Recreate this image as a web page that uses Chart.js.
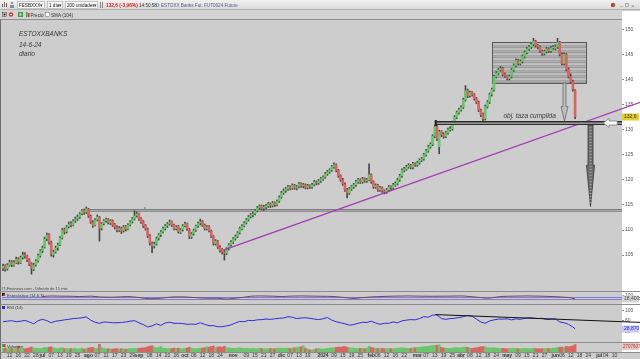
<!DOCTYPE html>
<html><head><meta charset="utf-8">
<script src="https://cdn.jsdelivr.net/npm/chart.js@4.4.1/dist/chart.umd.min.js"></script>
<style>
html,body{margin:0;padding:0;}
body{width:640px;height:359px;overflow:hidden;position:relative;background:#cdcdcd;}
#axbg{position:absolute;left:622px;top:11px;width:18px;height:341px;background:#ffffff;}
canvas{position:absolute;left:0;}
#cP{top:20px;} #cS{top:291px;} #cR{top:304px;} #cV{top:342px;}
#ov{top:0;pointer-events:none;}
</style></head><body>
<div id="axbg"></div>
<canvas id="cP" width="640" height="271"></canvas>
<canvas id="cS" width="640" height="13"></canvas>
<canvas id="cR" width="640" height="38"></canvas>
<canvas id="cV" width="640" height="17"></canvas>
<canvas id="ov" width="640" height="359"></canvas>
<script>
// ---------------- DATA ----------------
const MONTHS=['ene','feb','mar','abr','may','jun','jul','ago','sep','oct','nov','dic'];
const HOLIDAYS=['2023-12-25','2023-12-26','2024-01-01','2024-03-29','2024-04-01','2024-05-01'];
const FIRST_DAY='2023-06-07', LAST_AXIS_DAY='2024-07-12';
const tickDates=['2023-06-12','2023-06-16','2023-06-22','2023-06-28',
'2023-07-03','2023-07-07','2023-07-13','2023-07-19','2023-07-25',
'2023-08-01','2023-08-07','2023-08-11','2023-08-17','2023-08-23','2023-08-29',
'2023-09-01','2023-09-08','2023-09-14','2023-09-20','2023-09-26',
'2023-10-02','2023-10-06','2023-10-12','2023-10-18','2023-10-24',
'2023-11-01','2023-11-09','2023-11-15','2023-11-21','2023-11-27',
'2023-12-01','2023-12-07','2023-12-13','2023-12-19',
'2024-01-02','2024-01-09','2024-01-15','2024-01-19','2024-01-25',
'2024-02-01','2024-02-06','2024-02-12','2024-02-16','2024-02-22',
'2024-03-01','2024-03-07','2024-03-13','2024-03-19','2024-03-25',
'2024-04-02','2024-04-08','2024-04-12','2024-04-18','2024-04-24',
'2024-05-02','2024-05-09','2024-05-15','2024-05-21','2024-05-27',
'2024-06-03','2024-06-06','2024-06-12','2024-06-18','2024-06-24',
'2024-07-01','2024-07-04','2024-07-10'];

const open=[102.4,102.9,102.3,103.0,103.7,103.0,103.5,104.3,103.5,104.6,
105.1,104.9,104.1,103.3,102.2,103.1,103.9,104.9,105.9,106.6,
108.3,109.1,107.5,105.1,105.7,106.5,107.1,108.5,110.1,109.7,
110.7,111.3,111.0,111.9,112.3,112.6,113.3,113.9,113.6,114.1,
112.7,111.5,111.0,112.1,112.5,110.4,111.3,111.9,112.1,111.4,
111.8,111.1,110.5,110.0,110.4,109.9,110.7,110.2,111.1,111.7,
112.2,112.9,113.3,112.3,111.7,110.9,110.2,108.9,107.3,106.8,
107.3,108.4,109.1,109.7,110.3,110.9,111.3,111.7,111.0,110.3,
110.7,109.6,110.1,110.9,111.3,110.1,108.6,109.3,110.0,110.9,
111.4,111.7,111.0,110.3,110.7,109.8,108.7,107.3,107.7,106.6,
106.1,105.5,105.4,106.3,107.1,107.6,108.3,108.8,109.5,110.3,
110.9,111.5,112.1,112.7,113.0,113.3,113.9,114.5,114.8,114.3,
114.6,114.8,115.2,114.9,115.4,115.1,115.8,116.6,117.4,117.9,
118.2,118.6,118.4,118.9,118.4,118.7,119.2,118.8,119.0,118.5,
118.8,118.6,119.1,119.6,119.4,119.8,120.2,120.6,121.2,121.6,
122.0,122.6,123.0,121.9,120.8,120.0,119.1,118.0,117.4,118.2,
118.6,119.0,119.6,120.0,119.6,120.2,119.8,120.0,121.0,119.6,
118.6,118.9,118.0,118.4,117.8,117.6,118.0,118.6,118.4,119.0,
119.3,120.0,120.8,121.9,122.2,122.6,122.9,122.5,123.2,123.0,
123.4,123.9,124.2,125.0,125.8,126.6,127.1,128.7,130.6,126.6,
129.6,129.0,128.7,129.4,130.0,130.2,131.4,132.5,133.4,134.0,
134.5,136.0,137.8,136.8,137.4,137.0,136.2,135.5,133.9,133.0,
132.2,134.6,135.5,137.0,138.0,140.6,141.3,141.9,142.2,141.0,
140.7,140.2,140.6,141.9,142.8,143.8,143.2,143.6,144.6,145.4,
146.1,146.5,147.0,147.6,146.8,146.5,145.7,145.2,145.6,146.1,
145.7,146.3,146.2,146.5,147.4,145.0,143.2,145.0,142.0,140.6,
139.6,137.8];
const high=[103.2,103.1,103.3,104.0,103.9,103.9,104.6,104.5,104.8,105.6,
105.5,105.0,104.3,103.5,103.4,104.1,105.2,106.1,106.8,108.6,
109.4,109.3,107.8,106.0,106.8,107.4,108.7,110.3,110.4,110.9,
111.6,111.7,112.1,112.6,113.0,113.5,114.1,114.2,114.6,114.3,
113.0,111.9,112.3,113.0,112.7,111.5,112.1,112.4,112.3,112.1,
112.0,111.3,110.9,110.7,110.6,110.9,110.9,111.3,111.9,112.5,
113.8,113.6,113.4,112.5,111.9,111.1,110.4,109.1,107.6,107.6,
108.6,109.3,109.9,110.6,111.1,111.5,112.0,111.8,111.2,110.9,
110.9,110.3,111.1,111.6,111.4,110.3,109.5,110.2,111.0,111.6,
112.2,111.9,111.2,110.9,110.9,110.0,108.9,108.1,107.9,106.9,
106.3,106.0,106.5,107.3,107.9,108.5,109.0,109.7,110.6,111.1,
111.7,112.3,112.9,113.3,113.6,114.1,114.7,115.0,115.0,114.9,
115.1,115.5,115.4,115.7,115.6,116.0,116.8,117.7,118.2,118.5,
118.9,118.8,119.2,119.1,118.9,119.5,119.4,119.3,119.2,119.1,
119.0,119.3,119.9,119.8,120.1,120.5,120.8,121.5,121.9,122.2,
122.9,123.4,123.2,122.1,121.0,120.3,119.4,118.3,118.5,118.9,
119.3,119.9,120.3,120.2,120.5,120.4,120.3,123.2,121.2,119.8,
119.2,119.1,118.7,118.6,118.0,118.3,118.9,118.8,119.3,119.6,
120.3,121.1,122.2,122.5,122.9,123.2,123.1,123.5,123.4,123.7,
124.2,124.5,125.3,126.1,126.9,127.4,129.0,130.9,130.8,129.9,
129.8,129.4,129.7,130.3,130.6,131.7,132.8,133.7,134.3,134.8,
136.3,138.8,138.1,137.7,137.6,137.2,136.4,135.7,134.1,133.3,
134.9,135.8,137.3,138.3,140.9,141.6,142.2,142.6,142.4,141.3,
140.9,140.9,142.2,143.1,144.1,144.0,143.9,144.9,145.7,146.4,
146.8,147.3,148.2,147.8,147.0,146.7,145.9,145.9,146.4,146.3,
146.6,146.8,146.9,148.2,147.6,145.3,145.3,145.2,142.3,141.1,
139.9,138.0];
const low=[101.9,101.8,102.0,102.8,102.7,102.8,103.3,103.2,103.3,104.2,
104.4,103.7,102.9,101.2,101.9,102.8,103.6,104.6,105.5,106.4,
107.9,107.2,104.8,104.6,105.4,106.0,106.9,108.2,109.2,109.4,
110.4,110.6,110.8,111.5,111.9,112.3,113.0,113.1,113.3,112.5,
111.3,110.5,110.8,111.8,107.8,110.0,111.0,111.5,111.2,111.1,
110.7,110.2,109.6,109.7,109.3,109.6,109.8,110.0,110.8,111.4,
112.0,112.6,111.9,111.3,110.5,110.0,108.5,107.0,105.5,106.4,
107.0,108.0,108.7,109.4,110.0,110.5,111.0,110.7,110.0,110.0,
109.4,109.3,109.8,110.6,109.9,108.3,108.3,109.0,109.7,110.5,
111.0,110.7,110.0,110.0,109.6,108.5,107.0,107.0,106.3,105.6,
105.2,104.0,105.1,106.0,106.8,107.3,108.0,108.5,109.2,110.0,
110.6,111.2,111.8,112.4,112.6,113.0,113.6,114.1,114.0,113.9,
114.2,114.5,114.5,114.6,114.7,114.8,115.5,116.3,117.1,117.5,
117.9,118.0,118.1,118.1,118.0,118.4,118.5,118.4,118.2,118.2,
118.3,118.3,118.8,119.0,119.1,119.5,119.9,120.3,120.9,121.3,
121.7,122.3,121.6,120.5,119.7,118.9,117.7,116.4,117.1,117.9,
118.3,118.7,119.3,119.3,119.3,119.5,119.5,119.8,119.3,118.3,
118.3,117.7,117.7,117.5,117.2,117.3,117.7,118.0,118.1,118.7,
119.0,119.7,120.5,121.6,121.9,122.3,122.2,122.2,122.7,122.7,
123.1,123.6,123.9,124.7,125.5,126.3,126.8,128.4,127.8,125.2,
128.6,128.3,128.4,129.1,129.7,129.9,131.1,132.2,133.1,133.7,
134.2,135.7,136.4,136.5,136.7,135.9,135.2,133.6,132.6,131.3,
131.9,134.3,135.2,136.7,137.7,140.3,141.0,141.6,140.7,140.4,
139.9,139.9,140.3,141.6,142.5,142.9,142.9,143.3,144.3,145.1,
145.8,146.2,146.7,146.5,146.1,145.4,144.8,144.9,145.3,145.4,
145.4,146.0,145.9,146.2,144.7,142.9,142.9,141.7,140.3,139.3,
137.7,132.2];
const close=[102.8,102.2,103.0,103.6,103.1,103.5,104.2,103.6,104.5,105.0,
104.8,104.0,103.2,102.4,103.0,103.8,104.9,105.8,106.4,108.2,
109.0,107.6,105.2,105.6,106.4,107.0,108.4,110.0,109.6,110.6,
111.2,111.0,111.8,112.2,112.6,113.2,113.8,113.5,114.2,112.8,
111.6,110.9,112.0,112.6,110.3,111.2,111.8,112.0,111.5,111.8,
111.0,110.6,110.0,110.3,109.8,110.6,110.2,111.0,111.6,112.2,
112.8,113.2,112.2,111.6,110.8,110.3,108.8,107.4,106.8,107.2,
108.3,109.0,109.6,110.3,110.8,111.2,111.6,111.0,110.3,110.6,
109.7,110.0,110.8,111.2,110.2,108.7,109.2,109.9,110.8,111.3,
111.6,111.0,110.3,110.6,109.9,108.8,107.4,107.8,106.6,106.0,
105.6,105.4,106.2,107.0,107.6,108.2,108.7,109.4,110.3,110.8,
111.4,112.0,112.6,113.0,113.2,113.8,114.4,114.7,114.3,114.6,
114.7,115.2,114.9,115.4,115.0,115.7,116.5,117.4,117.8,118.2,
118.6,118.3,118.9,118.4,118.6,119.2,118.8,119.0,118.5,118.8,
118.6,119.0,119.6,119.4,119.8,120.2,120.5,121.2,121.6,121.9,
122.6,123.0,121.9,120.8,120.0,119.2,118.0,117.4,118.2,118.6,
119.0,119.6,120.0,119.6,120.2,119.8,120.0,121.0,119.6,118.6,
118.9,118.0,118.4,117.8,117.6,118.0,118.6,118.4,119.0,119.3,
120.0,120.8,121.9,122.2,122.6,122.9,122.5,123.2,123.0,123.4,
123.9,124.2,125.0,125.8,126.6,127.1,128.7,130.6,128.2,129.6,
129.0,128.7,129.4,130.0,130.2,131.4,132.5,133.4,134.0,134.5,
136.0,137.8,136.8,137.4,137.0,136.2,135.5,133.9,133.0,132.2,
134.6,135.5,137.0,138.0,140.6,141.3,141.9,142.2,141.0,140.7,
140.2,140.6,141.9,142.8,143.8,143.2,143.6,144.6,145.4,146.1,
146.5,147.0,147.6,146.8,146.5,145.7,145.2,145.6,146.1,145.7,
146.3,146.5,146.5,147.4,145.0,143.2,145.0,142.0,140.6,139.6,
138.1,132.6];
const volume=[38,42,35,40,36,33,45,62,40,37,
34,39,44,52,41,36,38,35,40,48,
45,50,55,42,38,36,41,44,35,37,
33,36,34,38,32,35,39,31,36,42,
46,48,40,38,80,45,36,33,35,30,
32,34,36,31,35,33,30,34,37,35,
38,36,40,42,44,46,55,62,66,50,
45,48,58,40,38,35,37,36,41,38,
40,36,34,38,42,50,39,37,35,38,
40,42,45,55,50,58,62,48,52,55,
50,60,46,42,40,38,36,41,44,39,
37,40,36,34,38,35,33,40,36,34,
35,33,37,36,34,38,42,40,36,39,
41,37,40,44,48,52,55,66,38,30,
22,18,28,34,36,32,30,34,38,40,
42,44,48,52,50,55,58,50,45,42,
40,38,36,39,37,35,40,60,48,42,
40,38,36,39,35,34,37,36,33,38,
40,42,44,41,38,36,40,43,45,48,
50,52,55,58,60,64,68,70,72,75,
48,42,40,38,36,40,44,46,42,45,
50,52,48,40,38,42,45,50,55,58,
52,46,44,42,45,40,38,36,38,35,
33,36,38,40,37,35,34,36,38,37,
35,38,40,36,34,33,36,35,38,37,
36,40,42,45,48,52,46,60,55,58,
65,78];
// RSI(14) read every second session, plus the last session
const rsiEven=[56,58,60,56,58,61,55,48,60,65,
60,52,58,60,63,65,68,69,71,74,
62,54,50,55,54,52,52,53,55,58,
60,52,45,36,40,48,42,51,54,50,
50,49,46,47,46,52,46,41,41,37,
37,40,44,51,57,56,61,60,63,64,
66,65,67,69,70,75,73,68,70,71,
69,66,64,67,72,62,56,52,48,43,
45,50,54,53,58,51,46,50,50,55,
52,59,62,64,63,68,75,73,81,82,
68,65,68,69,72,75,80,77,66,55,
50,59,63,66,66,67,63,67,65,69,
71,70,68,69,64,66,67,55,52,46,
36];
const rsiLast=28.8;
// Stochastic (14,6,3) read at these sessions
const stochIdx=[18,22,26,31,35,40,44,50,57,63,67,72,76,81,85,89,93,98,102,105,110,113,117,123,127,131,136,142,145,151,157,160,163,168,172,178,185,190,196,203,209,213,218,221,224,227,233,239,245,251,256,259,261];
const stochVal=[80,95,90,87,80,90,70,63,80,47,23,37,63,73,63,47,37,37,13,30,63,87,96,90,80,90,96,90,87,80,47,30,47,70,80,90,96,90,87,90,96,80,53,37,57,80,90,96,90,80,63,47,18.4];
const priceTicks=[105,110,115,120,125,130,135,140,145,150];
const rsiTicks=[20,40,60,80,100];
const stochTicks=[100];
const lastPriceLabel='132,6', stochLabel='18,400', rsiLabel='28,870', volLabel='2707607';
// drawn studies (bar index / price units)
const trendPurple=[{x:100.5,y:106.0},{x:290.9,y:135.5}];
const trendRsi=[{x:197.3,y:83},{x:290.9,y:53.4}];
const resistanceLevel=114.0, resistanceFrom=39;
const supportLevel=131.3, supportFrom=197;
const cupBox={x0:223.3,x1:266.2,yTop:147.5,yBot:139.3};
const smallArrow={x:255.8,neck:134.6,tip:131.7};
const bigArrow={x:267.8,neck:122.9,tip:114.7};
const leftArrow={tip:273.8,tail:280.2};
const objText={x:228.3,y:132.4,text:'obj. taza cumplida'};

// ---------------- SETUP ----------------
const FONT='"Liberation Sans", Arial, sans-serif';
const UP='#6cc46c', DOWN='#d86464', WICK='#474747';
const XMIN=-0.46, XMAX=282.4;
const days=[];
for(let d=new Date(FIRST_DAY+'T00:00:00Z'); d<=new Date(LAST_AXIS_DAY+'T00:00:00Z'); d.setUTCDate(d.getUTCDate()+1)){
  const w=d.getUTCDay(), s=d.toISOString().slice(0,10);
  if(w>0&&w<6&&!HOLIDAYS.includes(s)) days.push(s);
}
const tickIdx=tickDates.map(s=>days.indexOf(s)).filter(i=>i>=0);
function isMonthStart(i){const d=days[i],p=days[i-1];return !p||p.slice(5,7)!==d.slice(5,7);}
function tickLabel(i){const d=days[i]; if(!d) return ''; if(isMonthStart(i)){const m=+d.slice(5,7); return m===1?d.slice(0,4):MONTHS[m-1];} return d.slice(8,10);}

function yAxis(min,max,ticks){
  return {position:'right',min,max,
    afterBuildTicks:s=>{s.ticks=ticks.map(v=>({value:v}));},
    afterFit:s=>{s.width=18;},
    ticks:{font:{family:FONT,size:5},color:'#505050',padding:1,callback:v=>String(v)},
    grid:{drawOnChartArea:false,drawTicks:true,tickLength:2,color:'#8a8a8a'},
    border:{display:false}};
}
function xAxis(show){
  const a={type:'linear',min:XMIN,max:XMAX,offset:false,display:show,grid:{display:false,drawTicks:false,tickLength:0},border:{display:false}};
  if(show){
    a.afterBuildTicks=s=>{s.ticks=tickIdx.map(v=>({value:v}));};
    a.afterFit=s=>{s.height=7;};
    a.ticks={autoSkip:false,maxRotation:0,minRotation:0,padding:1,color:'#333',
      font:c=>({family:FONT,size:5,weight:(c.tick&&isMonthStart(c.tick.value))?'bold':'normal'}),
      callback:v=>tickLabel(v)};
  }
  return a;
}
function opts(y,showX){
  return {responsive:false,animation:false,events:[],
    layout:{padding:{left:2,right:0,top:0,bottom:0}},
    plugins:{legend:{display:false},tooltip:{enabled:false}},
    scales:{x:xAxis(showX),y:y}};
}
function valueBox(ctx,chart,val,text,bg,fg){
  const y=chart.scales.y.getPixelForValue(val);
  ctx.save();ctx.fillStyle=bg;ctx.fillRect(622,Math.round(y)-3.5,17,7);
  ctx.fillStyle=fg;ctx.font='5px '+FONT;ctx.textBaseline='middle';ctx.fillText(text,624,Math.round(y));ctx.restore();
}

// ---------------- PRICE ----------------
const PMAX=151.064, PMIN=98.646;
const pricePlugin={id:'pp',
  beforeDatasetsDraw(chart){
    const {ctx,scales:{x,y},chartArea:ca}=chart; ctx.save();
    const bx0=x.getPixelForValue(cupBox.x0),bx1=x.getPixelForValue(cupBox.x1);
    const by0=Math.round(y.getPixelForValue(cupBox.yTop)),by1=Math.round(y.getPixelForValue(cupBox.yBot));
    const shades=['rgba(150,150,150,0.75)','rgba(178,178,178,0.7)','rgba(160,160,160,0.75)','rgba(188,188,188,0.7)','rgba(140,140,140,0.75)'];
    for(let r=by0;r<by1;r++){ctx.fillStyle=shades[(r*7)%5];ctx.fillRect(bx0,r,bx1-bx0,1);}
    ctx.strokeStyle='#5a5a5a';ctx.lineWidth=1;ctx.strokeRect(Math.round(bx0)+0.5,by0+0.5,Math.round(bx1-bx0),by1-by0);
    const ry=Math.round(y.getPixelForValue(resistanceLevel));
    const rx=x.getPixelForValue(resistanceFrom);
    ctx.fillStyle='#a9a9a9';ctx.fillRect(rx,ry-1,ca.right-rx,3);
    ctx.fillStyle='#7c7c7c';ctx.fillRect(rx,ry-1,ca.right-rx,1);
    ctx.fillStyle='#8e8e8e';ctx.fillRect(rx,ry+1,ca.right-rx,1);
    ctx.fillStyle='#777';ctx.fillRect(x.getPixelForValue(64.5),ry-3,1,3);
    ctx.restore();
  },
  afterDatasetsDraw(chart){
    const {ctx,scales:{x,y},chartArea:ca}=chart; ctx.save();
    const sy=Math.round(y.getPixelForValue(supportLevel));
    const sx=x.getPixelForValue(supportFrom);
    ctx.fillStyle='#6a6a6a';ctx.fillRect(sx,sy-2,ca.right-sx,4);
    ctx.fillStyle='#2e2e2e';ctx.fillRect(sx,sy-2,ca.right-sx,1);ctx.fillRect(sx,sy+1,ca.right-sx,1);
    ctx.fillStyle='#9a9a9a';ctx.fillRect(sx,sy,ca.right-sx,1);
    ctx.fillStyle='#222';ctx.fillRect(sx,sy-3,2,6);
    const ax=Math.round(x.getPixelForValue(smallArrow.x))+0.5;
    const aTop=y.getPixelForValue(cupBox.yBot),aNeck=y.getPixelForValue(smallArrow.neck),aTip=y.getPixelForValue(smallArrow.tip);
    ctx.beginPath();ctx.moveTo(ax-1.5,aTop);ctx.lineTo(ax+1.5,aTop);ctx.lineTo(ax+1.5,aNeck);ctx.lineTo(ax+3.5,aNeck);
    ctx.lineTo(ax,aTip);ctx.lineTo(ax-3.5,aNeck);ctx.lineTo(ax-1.5,aNeck);ctx.closePath();
    ctx.fillStyle='#bdbdbd';ctx.fill();ctx.strokeStyle='#6a6a6a';ctx.lineWidth=0.8;ctx.stroke();
    const bx=Math.round(x.getPixelForValue(bigArrow.x))+0.5;
    const bTop=sy+2,bNeck=y.getPixelForValue(bigArrow.neck),bTip=y.getPixelForValue(bigArrow.tip);
    ctx.beginPath();ctx.moveTo(bx-2.5,bTop);ctx.lineTo(bx+2.5,bTop);ctx.lineTo(bx+2.5,bNeck);ctx.lineTo(bx+4,bNeck);
    ctx.lineTo(bx,bTip);ctx.lineTo(bx-4,bNeck);ctx.lineTo(bx-2.5,bNeck);ctx.closePath();
    ctx.fillStyle='#6e6e6e';ctx.fill();ctx.strokeStyle='#333';ctx.lineWidth=0.8;ctx.stroke();
    ctx.fillStyle='#9c9c9c';for(let r=bTop+2;r<bTip-4;r+=3){ctx.fillRect(bx-1,r,2,1);}
    const lt=x.getPixelForValue(leftArrow.tip),lb=x.getPixelForValue(leftArrow.tail);
    ctx.beginPath();ctx.moveTo(lt,sy);ctx.lineTo(lt+6,sy-4.5);ctx.lineTo(lt+6,sy-2);ctx.lineTo(lb,sy-2);ctx.lineTo(lb,sy+2);
    ctx.lineTo(lt+6,sy+2);ctx.lineTo(lt+6,sy+4.5);ctx.closePath();
    ctx.fillStyle='#fff';ctx.fill();ctx.strokeStyle='#777';ctx.lineWidth=0.8;ctx.stroke();
    ctx.fillStyle='#3a3a3a';ctx.font='italic 6.5px '+FONT;ctx.textBaseline='alphabetic';
    ctx.fillText(objText.text,x.getPixelForValue(objText.x),y.getPixelForValue(objText.y));
    ctx.restore();
  },
  afterDraw(chart){
    valueBox(chart.ctx,chart,close[close.length-1],lastPriceLabel,'#e5cc2c','#333');
  }
};
new Chart(document.getElementById('cP'),{type:'bar',
  data:{datasets:[
    {type:'line',data:trendPurple,borderColor:'#a23ab4',borderWidth:1.2,pointRadius:0,clip:false,order:0},
    {data:close.map((c,i)=>({x:i,y:[open[i],c]})),backgroundColor:close.map((c,i)=>c>=open[i]?UP:DOWN),
     barThickness:2,minBarLength:1,grouped:false,order:1},
    {data:close.map((c,i)=>({x:i,y:[low[i],high[i]]})),backgroundColor:WICK,barThickness:1,grouped:false,order:2}
  ]},
  options:opts(yAxis(PMIN,PMAX,priceTicks),false),plugins:[pricePlugin]});

// ---------------- STOCHASTIC ----------------
const stochPlugin={id:'sp',
  beforeDatasetsDraw(chart){const {ctx,scales:{y},chartArea:ca}=chart;ctx.save();ctx.fillStyle='#7d7dd6';
    [80,20].forEach(v=>ctx.fillRect(ca.left,Math.round(y.getPixelForValue(v)),640-ca.left,1));ctx.restore();},
  afterDraw(chart){valueBox(chart.ctx,chart,stochVal[stochVal.length-1],stochLabel,'#d4d4d4','#444');}
};
new Chart(document.getElementById('cS'),{type:'line',
  data:{datasets:[{data:stochIdx.map((x,k)=>({x,y:stochVal[k]})),borderColor:'#7a4848',borderWidth:1,pointRadius:0,
    cubicInterpolationMode:'monotone'}]},
  options:opts(yAxis(-10,120,stochTicks),false),plugins:[stochPlugin]});

// ---------------- RSI ----------------
const rsiPts=rsiEven.map((v,k)=>({x:k*2,y:v})); rsiPts.push({x:close.length-1,y:rsiLast});
const rsiPlugin={id:'rp',afterDraw(chart){valueBox(chart.ctx,chart,rsiLast,rsiLabel,'#c9c9f2','#2a2acc');}};
new Chart(document.getElementById('cR'),{type:'line',
  data:{datasets:[
    {data:trendRsi,borderColor:'#111',borderWidth:1,pointRadius:0,clip:false,order:0},
    {data:rsiPts,borderColor:'#2c2cdc',borderWidth:1,pointRadius:0,order:1}]},
  options:opts(yAxis(-5.9,108.1,rsiTicks),false),plugins:[rsiPlugin]});

// ---------------- VOLUME ----------------
const volPlugin={id:'vp',afterDraw(chart){
  const ctx=chart.ctx;ctx.save();ctx.fillStyle='#e9c8c8';ctx.fillRect(622,1,17,7);ctx.fillStyle='#b03030';
  ctx.font='4.5px '+FONT;ctx.textBaseline='middle';ctx.fillText(volLabel,623,4.5);ctx.restore();}};
new Chart(document.getElementById('cV'),{type:'bar',
  data:{datasets:[{data:volume.map((v,i)=>({x:i,y:v})),backgroundColor:close.map((c,i)=>c>=open[i]?UP:DOWN),barThickness:2}]},
  options:opts({position:'right',min:0,max:105,display:true,afterFit:s=>{s.width=18;},ticks:{display:false},grid:{display:false},border:{display:false}},true),
  plugins:[volPlugin]});

// ---------------- FRAME / TOOLBAR ----------------
const o=document.getElementById('ov').getContext('2d');
let g=o.createLinearGradient(0,0,0,10);g.addColorStop(0,'#f2f2f2');g.addColorStop(1,'#d8d8d8');
o.fillStyle=g;o.fillRect(0,0,640,10);
o.fillStyle='#b0b0b0';o.fillRect(0,9,640,1);
o.fillStyle='#d3d3d3';o.fillRect(0,10,622,9);
o.fillStyle='#8f8f8f';o.fillRect(0,19,622,1);
o.textBaseline='alphabetic';
function txt(s,x,y,size,color,weight){o.font=(weight||'')+' '+size+'px '+FONT;o.fillStyle=color;o.fillText(s,x,y);}
function box(x,y,w,h,fill,stroke){o.fillStyle=fill;o.fillRect(x,y,w,h);o.strokeStyle=stroke;o.lineWidth=0.6;o.strokeRect(x+0.5,y+0.5,w-1,h-1);}
o.fillStyle='#d03a3a';o.fillRect(2,4,1,3);o.fillStyle='#3aa03a';o.fillRect(4,2,1,5);o.fillStyle='#d03a3a';o.fillRect(6,3,1,4);
o.fillStyle='#7a8aa8';o.fillRect(11,2,2,2);o.fillRect(10,5,4,3);
box(17,1,28,8,'#f6f6f6','#a8a8a8');txt('FESBXXX',19,7,4.6,'#222');txt('▾',40,7,4.5,'#444');
box(47,1,16,8,'#f6f6f6','#a8a8a8');txt('1 día',49,7,4.6,'#222');txt('▾',58.5,7,4.5,'#444');
box(65,1,33,8,'#f6f6f6','#a8a8a8');txt('200 unidades',67,7,4.6,'#222');txt('▾',93.5,7,4.5,'#444');
o.fillStyle='#888';o.fillRect(100,2,1,6);o.fillRect(102,2,1,6);
txt('132,6 (-3,96%)',106,7,4.8,'#d41c1c','bold');
txt('14:50:58',139,7,4.6,'#333');
o.strokeStyle='#3d7fd0';o.lineWidth=0.7;o.beginPath();o.arc(157.5,5,1.5,0,Math.PI*2);o.stroke();
txt('ESTOXX Banks Fut. FUT0624 Future',161,7,4.6,'#4b5f86');
o.fillStyle='#d83030';o.beginPath();o.arc(613,5,2.2,0,Math.PI*2);o.fill();o.fillStyle='#30a030';o.beginPath();o.arc(614,5,1.3,0,Math.PI*2);o.fill();
txt('_',620,6,5,'#777');o.strokeStyle='#888';o.lineWidth=0.6;o.strokeRect(625.5,3.5,3,3);txt('×',631,7.5,6,'#888');
box(2,12,5,5,'#ffffff','#333');o.fillStyle='#111';o.fillRect(3.5,13.5,2,2);
o.fillStyle='#d04040';o.beginPath();o.arc(11,14.5,2.3,0,Math.PI*2);o.fill();o.fillStyle='#eee';o.fillRect(10,14,2,1);
o.fillStyle='#3aa53a';o.fillRect(18,12,5,5);o.fillStyle='#e8e8e8';o.fillRect(19.5,13.5,2,2);
o.fillStyle='#3aa53a';o.fillRect(26,12,1.5,5);o.fillStyle='#d03a3a';o.fillRect(28,13,1.5,4);
txt('Precio',30.5,17,4.6,'#333');
box(45,12,5,5,'#fafafa','#777');txt('SMA (104)',51,17,4.6,'#333');
o.fillStyle='#6e6e6e';o.fillRect(0,20,1,339);
o.font='italic 6.5px '+FONT;o.fillStyle='#3a3a3a';
o.fillText('ESTOXXBANKS',19,36);o.fillText('14-6-24',19,46.5);o.fillText('diario',19,56);
o.fillStyle='#8c8c8c';[291,304,342].forEach(yy=>o.fillRect(0,yy,640,1));o.fillRect(0,352,640,1);
txt('IT-Finanzas.com - Diferido de 15 min',2,289.5,4,'#444');
o.fillStyle='#111';o.fillRect(2,293,3,3);o.fillStyle='#c03030';o.fillRect(3,294,2,2);
txt('Estocástico (14,6,3)',7,296.5,4.2,'#333');
o.fillStyle='#2a2ad0';o.fillRect(2,306,3,3);
txt('RSI (14)',7,309,4.2,'#333');
o.fillStyle='#3aa53a';o.fillRect(2,344,2,3);o.fillStyle='#d03a3a';o.fillRect(4,344,1.5,3);
txt('Volumen',7,347.5,4.2,'#333');
</script>
</body></html>
